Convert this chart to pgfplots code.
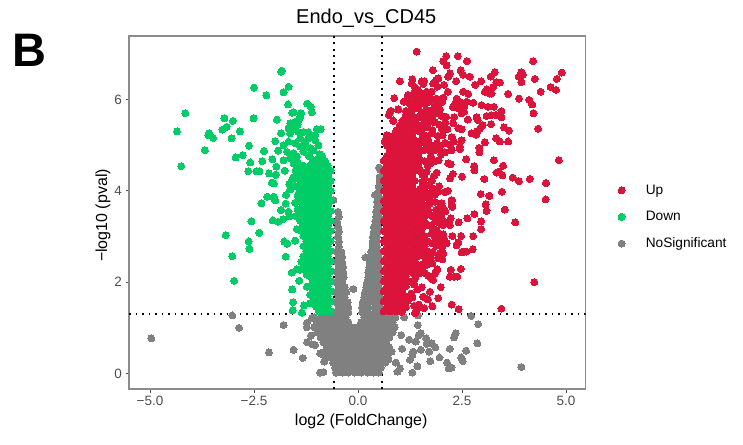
\documentclass[border=0pt]{standalone}
\usepackage{fontspec}
\setmainfont{Liberation Sans}
\usepackage{xcolor}
\usepackage{pgfplots}
\pgfplotsset{compat=1.18}
\definecolor{upred}{HTML}{DC143C}
\definecolor{downgreen}{HTML}{00CD66}
\definecolor{nsgray}{HTML}{808080}
\definecolor{axgray}{HTML}{8C8C8C}
\definecolor{ticktxt}{HTML}{4D4D4D}
\begin{document}
\begin{tikzpicture}
\useasboundingbox (0,0) rectangle (743pt,444pt);
\node[font=\fontsize{47}{50}\selectfont\bfseries, anchor=base west, inner sep=0pt] at (12pt,377pt) {B};
\begin{axis}[
    at={(129pt,55pt)}, anchor=south west,
    scale only axis, width=456.5pt, height=353pt,
    xmin=-5.505, xmax=5.47, ymin=-0.34, ymax=7.39,
    xtick={-5,-2.5,0,2.5,5},
    xticklabels={−5.0,−2.5,0.0,2.5,5.0},
    ytick={0,2,4,6},
    yticklabels={0,2,4,6},
    tick align=outside, xtick pos=bottom, ytick pos=left,
    major tick length=3.5pt,
    tick style={draw=ticktxt, line width=0.8pt},
    axis line style={draw=axgray, line width=1.2pt},
    ticklabel style={font=\fontsize{13.5}{15}\selectfont, text=ticktxt},
    xlabel={log2 (FoldChange)},
    ylabel={−log10 (pval)},
    label style={font=\fontsize{16}{18}\selectfont},
    xlabel style={at={(axis description cs:0.5,0)}, anchor=north, yshift=-21pt, xshift=4pt},
    ylabel style={at={(axis description cs:0,0.5)}, anchor=south, yshift=15pt, xshift=-3pt},
    title={Endo\_vs\_CD45},
    title style={font=\fontsize{20}{22}\selectfont, at={(axis description cs:0.5,1)}, anchor=south, yshift=-1pt, xshift=9pt},
    legend cell align=left,
    legend style={draw=none, fill=none, at={(1.065,0.487)}, anchor=west, inner sep=0pt,
      font=\fontsize{13.7}{15}\selectfont, row sep=11.5pt},
    legend image code/.code={\path (0pt,0pt) (28pt,0pt);\draw[#1] plot coordinates {(6pt,0pt)};},
    mystyle/.style={forget plot, only marks, mark=*, mark size=3.5pt, color=#1, mark options={line width=0pt, fill=#1, draw=#1}},
]
\addlegendimage{only marks, mark=*, mark size=3.5pt, color=upred, mark options={line width=0pt, fill=upred, draw=upred}}
\addlegendentry{Up}
\addlegendimage{only marks, mark=*, mark size=3.5pt, color=downgreen, mark options={line width=0pt, fill=downgreen, draw=downgreen}}
\addlegendentry{Down}
\addlegendimage{only marks, mark=*, mark size=3.5pt, color=nsgray, mark options={line width=0pt, fill=nsgray, draw=nsgray}}
\addlegendentry{NoSignificant}

% NoSignificant
\addplot[mystyle=nsgray] coordinates {
(-0.53,0.02)(-0.38,0.02)(-0.23,0.02)(-0.08,0.02)(0.08,0.02)(0.23,0.02)(0.38,0.02)(0.50,0.02)
(-0.55,0.13)(-0.45,0.13)(-0.30,0.13)(-0.15,0.13)(0,0.13)(0.15,0.13)(0.30,0.13)(0.45,0.13)(0.55,0.13)
(-0.60,0.24)(-0.53,0.24)(-0.38,0.24)(-0.23,0.24)(-0.08,0.24)(0.08,0.24)(0.23,0.24)(0.38,0.24)(0.53,0.24)(0.66,0.24)
(-0.72,0.35)(-0.60,0.35)(-0.45,0.35)(-0.30,0.35)(-0.15,0.35)(0,0.35)(0.15,0.35)(0.30,0.35)(0.45,0.35)(0.60,0.35)(0.72,0.35)
(-0.83,0.46)(-0.68,0.46)(-0.53,0.46)(-0.38,0.46)(-0.23,0.46)(-0.08,0.46)(0.08,0.46)(0.23,0.46)(0.38,0.46)(0.53,0.46)(0.68,0.46)
(-0.75,0.57)(-0.60,0.57)(-0.45,0.57)(-0.30,0.57)(-0.15,0.57)(0,0.57)(0.15,0.57)(0.30,0.57)(0.45,0.57)(0.60,0.57)(0.75,0.57)
(-0.83,0.68)(-0.68,0.68)(-0.53,0.68)(-0.38,0.68)(-0.23,0.68)(-0.08,0.68)(0.08,0.68)(0.23,0.68)(0.38,0.68)(0.53,0.68)(0.68,0.68)
(-0.90,0.79)(-0.75,0.79)(-0.60,0.79)(-0.45,0.79)(-0.30,0.79)(-0.15,0.79)(0,0.79)(0.15,0.79)(0.30,0.79)(0.45,0.79)(0.60,0.79)(0.75,0.79)
(-0.98,0.90)(-0.83,0.90)(-0.68,0.90)(-0.53,0.90)(-0.38,0.90)(-0.23,0.90)(-0.08,0.90)(0.08,0.90)(0.23,0.90)(0.38,0.90)(0.53,0.90)(0.68,0.90)(0.83,0.90)
(-1.05,1.01)(-0.90,1.01)(-0.75,1.01)(-0.60,1.01)(-0.45,1.01)(-0.30,1.01)(-0.15,1.01)(0,1.01)(0.15,1.01)(0.30,1.01)(0.45,1.01)(0.60,1.01)(0.75,1.01)(0.88,1.01)
(-0.98,1.12)(-0.83,1.12)(-0.68,1.12)(-0.53,1.12)(-0.38,1.12)(-0.23,1.12)(0.08,1.12)(0.23,1.12)(0.38,1.12)(0.53,1.12)(0.68,1.12)(0.83,1.12)
(-1.05,1.23)(-0.90,1.23)(-0.75,1.23)(-0.60,1.23)(-0.45,1.23)(-0.30,1.23)(0.15,1.23)(0.30,1.23)(0.45,1.23)(0.60,1.23)(0.75,1.23)(0.90,1.23)
(-0.53,1.34)(-0.38,1.34)(-0.23,1.34)(0.10,1.34)(0.25,1.34)(0.40,1.34)(0.53,1.34)
(-0.46,1.45)(-0.30,1.45)(-0.23,1.45)(0.10,1.45)(0.25,1.45)(0.40,1.45)(0.53,1.45)
(-0.53,1.56)(-0.38,1.56)(-0.25,1.56)(0.12,1.56)(0.25,1.56)(0.40,1.56)(0.53,1.56)
(-0.46,1.67)(-0.32,1.67)(0.15,1.67)(0.28,1.67)(0.42,1.67)(0.53,1.67)
(-0.53,1.78)(-0.38,1.78)(-0.28,1.78)(0.17,1.78)(0.30,1.78)(0.42,1.78)(0.53,1.78)
(-0.46,1.89)(-0.32,1.89)(0.20,1.89)(0.35,1.89)(0.50,1.89)
(-0.53,2.00)(-0.38,2.00)(0.22,2.00)(0.35,2.00)(0.50,2.00)
(-0.46,2.11)(-0.34,2.11)(0.25,2.11)(0.38,2.11)(0.50,2.11)
(-0.50,2.22)(-0.36,2.22)(0.25,2.22)(0.38,2.22)(0.50,2.22)
(-0.46,2.33)(-0.36,2.33)(0.27,2.33)(0.40,2.33)(0.50,2.33)
(-0.50,2.44)(-0.38,2.44)(0.28,2.44)(0.40,2.44)(0.50,2.44)
(-0.46,2.55)(-0.38,2.55)(0.30,2.55)(0.42,2.55)(0.50,2.55)
(-0.50,2.66)(-0.40,2.66)(0.32,2.66)(0.42,2.66)(0.50,2.66)
(-0.46,2.77)(0.35,2.77)(0.45,2.77)(-0.46,2.88)(0.35,2.88)(0.45,2.88)
(-0.48,2.99)(0.36,2.99)(0.45,2.99)(-0.46,3.10)(0.38,3.10)(0.48,3.10)
(-0.48,3.21)(0.38,3.21)(0.48,3.21)(-0.50,3.32)(0.42,3.32)(0.48,3.32)
(-0.46,3.43)(0.44,3.43)(0.50,3.43)(-0.48,3.54)(0.44,3.54)(0.50,3.54)
(0.46,3.65)(0.50,3.65)(0.46,3.76)(0.50,3.76)(0.41,3.91)(0.50,3.87)
(0.50,3.98)(0.50,4.09)(0.52,4.20)(0.52,4.30)(0.54,4.46)(0.51,4.51)(-0.59,3.80)
(-0.11,1.85)(0.18,2.54)
(-3.02,1.27)(-2.86,1.00)(-4.97,0.77)(-1.79,1.06)(-2.14,0.46)(-1.55,0.52)(-1.33,0.34)
(-1.13,0.83)(-1.22,0.68)(-1.11,0.64)(-1.03,0.62)(-0.91,0.02)(-0.83,0.03)(-0.91,0.44)
(-0.81,0.26)(-0.83,0.41)(-1.23,1.11)(-1.23,1.01)(-1.11,1.21)
(2.72,1.26)(2.89,1.08)(1.44,1.27)(1.44,1.06)(1.11,1.23)(2.35,0.88)(2.31,0.79)(2.87,0.66)
(2.60,0.50)(2.21,0.54)(1.51,0.88)(1.46,0.84)(1.04,0.84)(1.23,0.74)(1.39,0.70)(1.64,0.77)
(1.77,0.66)(1.65,0.65)(1.86,0.57)(1.51,0.52)(1.71,0.48)(1.33,0.48)(1.31,0.41)(1.25,0.30)
(1.06,0.54)(0.81,0.48)(1.96,0.35)(1.74,0.27)(2.14,0.24)(2.48,0.35)(2.52,0.27)(2.25,0.13)
(2.18,0.11)(1.43,0.16)(1.31,0.02)(1.01,0.11)(0.95,0.04)(0.91,0.24)(0.73,0.31)(3.93,0.14)
};

% Down
\addplot[mystyle=downgreen] coordinates {
(-0.66,1.36)(-0.80,1.36)(-0.94,1.36)
(-0.73,1.47)(-0.87,1.47)(-1.01,1.47)
(-0.66,1.58)(-0.80,1.58)(-0.94,1.58)(-1.09,1.58)
(-0.73,1.69)(-0.87,1.69)(-1.01,1.69)
(-0.66,1.80)(-0.80,1.80)(-0.94,1.80)(-1.09,1.80)
(-0.73,1.91)(-0.87,1.91)(-1.01,1.91)(-1.16,1.91)
(-0.66,2.02)(-0.80,2.02)(-0.94,2.02)(-1.09,2.02)
(-0.73,2.13)(-0.87,2.13)(-1.01,2.13)(-1.16,2.13)
(-0.66,2.24)(-0.80,2.24)(-0.94,2.24)(-1.09,2.24)(-1.24,2.24)
(-0.73,2.35)(-0.87,2.35)(-1.01,2.35)(-1.16,2.35)(-1.31,2.35)
(-0.66,2.46)(-0.80,2.46)(-0.94,2.46)(-1.09,2.46)(-1.24,2.46)
(-0.73,2.57)(-0.87,2.57)(-1.01,2.57)(-1.16,2.57)(-1.31,2.57)
(-0.66,2.68)(-0.80,2.68)(-0.94,2.68)(-1.09,2.68)(-1.24,2.68)
(-0.73,2.79)(-0.87,2.79)(-1.01,2.79)(-1.16,2.79)(-1.31,2.79)
(-0.66,2.90)(-0.80,2.90)(-0.94,2.90)(-1.09,2.90)(-1.24,2.90)
(-0.73,3.01)(-0.87,3.01)(-1.01,3.01)(-1.16,3.01)(-1.31,3.01)
(-0.66,3.12)(-0.80,3.12)(-0.94,3.12)(-1.09,3.12)(-1.24,3.12)(-1.36,3.12)
(-0.73,3.23)(-0.87,3.23)(-1.01,3.23)(-1.16,3.23)(-1.31,3.23)
(-0.66,3.34)(-0.80,3.34)(-0.94,3.34)(-1.09,3.34)(-1.24,3.34)(-1.39,3.34)
(-0.73,3.45)(-0.87,3.45)(-1.01,3.45)(-1.16,3.45)(-1.31,3.45)
(-0.66,3.56)(-0.80,3.56)(-0.94,3.56)(-1.09,3.56)(-1.24,3.56)(-1.39,3.56)
(-0.73,3.67)(-0.87,3.67)(-1.01,3.67)(-1.16,3.67)(-1.31,3.67)
(-0.66,3.78)(-0.80,3.78)(-0.94,3.78)(-1.09,3.78)(-1.24,3.78)(-1.39,3.78)
(-0.73,3.89)(-0.87,3.89)(-1.01,3.89)(-1.16,3.89)(-1.31,3.89)
(-0.66,4.00)(-0.80,4.00)(-0.94,4.00)(-1.09,4.00)(-1.24,4.00)(-1.39,4.00)
(-0.73,4.11)(-0.87,4.11)(-1.01,4.11)(-1.16,4.11)(-1.31,4.11)
(-0.66,4.22)(-0.80,4.22)(-0.94,4.22)(-1.09,4.22)(-1.24,4.22)(-1.39,4.22)
(-0.73,4.33)(-0.87,4.33)(-1.01,4.33)(-1.16,4.33)(-1.31,4.33)(-1.46,4.33)
(-0.66,4.44)(-0.80,4.44)(-0.94,4.44)(-1.09,4.44)(-1.24,4.44)(-1.39,4.44)
(-0.73,4.55)(-0.87,4.55)(-1.01,4.55)(-1.16,4.55)(-1.31,4.55)
(-0.80,4.66)(-0.94,4.66)(-1.09,4.66)(-0.87,4.77)(-1.16,4.75)
(-1.50,4.45)(-1.55,4.30)(-1.50,4.10)(-1.45,3.90)(-1.45,4.52)
(-1.85,6.61)(-1.83,6.63)(-2.50,6.26)(-1.67,6.28)(-1.79,6.16)(-2.20,6.09)(-4.15,5.70)(-1.68,5.89)
(-1.22,5.91)(-1.13,5.84)(-1.11,5.72)(-1.58,5.71)(-1.55,5.72)(-1.37,5.70)(-3.21,5.59)(-3.01,5.53)
(-2.51,5.59)(-1.95,5.56)(-4.35,5.30)(-3.16,5.40)(-3.26,5.34)(-2.84,5.30)(-3.58,5.26)(-3.60,5.22)
(-3.48,5.16)(-3.04,5.15)(-3.68,4.89)(-2.62,4.99)(-2.26,4.87)(-2.94,4.73)(-2.77,4.78)(-4.25,4.54)
(-2.59,4.62)(-2.30,4.65)(-2.64,4.43)(-2.44,4.43)(-2.37,4.43)(-2.14,4.38)(-2.07,4.18)(-2.02,4.16)
(-2.18,3.87)(-2.03,3.87)(-1.99,3.79)(-2.32,3.73)(-1.74,3.72)(-1.51,3.74)(-1.73,3.91)
(-1.85,5.26)(-1.99,5.09)(-1.92,4.88)(-2.06,4.69)(-1.96,4.53)(-1.98,4.35)(-1.76,4.44)(-1.65,4.14)
(-1.58,4.24)(-1.63,4.03)
(-1.39,5.62)(-1.43,5.55)(-1.51,5.51)(-1.63,5.48)(-1.59,5.40)(-1.67,5.37)(-1.63,5.26)(-1.43,5.29)
(-1.31,5.29)(-1.39,5.15)(-0.99,5.35)(-0.90,5.35)(-1.03,5.22)(-1.11,5.19)(-1.19,5.15)(-1.03,5.11)
(-1.27,5.08)(-1.67,5.08)(-1.51,5.04)(-1.79,5.00)(-1.15,4.93)(-1.39,4.97)(-1.07,4.89)(-1.55,4.82)
(-1.31,4.86)(-1.79,4.67)(-1.63,4.71)(-1.47,4.75)(-1.19,4.78)(-1.03,4.67)(-1.55,4.60)
(-0.95,5.00)(-1.45,5.45)(-1.52,5.35)(-1.20,5.28)(-1.25,4.95)(-0.92,4.80)(-1.70,4.85)(-1.44,4.62)
(-3.18,3.03)(-2.56,3.33)(-2.37,3.08)(-2.63,2.89)(-2.61,2.73)(-3.02,2.57)(-1.74,2.56)(-2.98,2.03)
(-1.77,2.89)(-1.70,2.84)(-1.51,2.91)(-1.47,3.16)(-2.05,3.35)(-1.92,3.32)(-1.80,3.38)(-1.65,3.44)
(-1.85,3.58)(-1.67,3.54)(-1.59,2.21)(-1.47,2.28)(-1.39,2.27)(-1.41,2.03)(-1.23,2.16)(-1.23,1.90)
(-1.58,1.84)(-1.56,1.56)(-1.57,1.38)(-1.35,1.33)(-1.30,1.49)(-1.15,1.72)(-1.15,1.54)(-1.31,2.45)
(-1.36,2.45)(-1.45,3.60)(-1.50,3.45)
};

% Up
\addplot[mystyle=upred] coordinates {
(0.62,1.36)(0.77,1.36)(0.92,1.36)
(0.70,1.47)(0.85,1.47)(1.00,1.47)
(0.62,1.58)(0.77,1.58)(0.92,1.58)(1.07,1.58)
(0.70,1.69)(0.85,1.69)(1.00,1.69)(1.15,1.69)
(0.62,1.80)(0.77,1.80)(0.92,1.80)(1.07,1.80)
(0.70,1.91)(0.85,1.91)(1.00,1.91)(1.15,1.91)
(0.62,2.02)(0.77,2.02)(0.92,2.02)(1.07,2.02)(1.22,2.02)
(0.70,2.13)(0.85,2.13)(1.00,2.13)(1.15,2.13)
(0.62,2.24)(0.77,2.24)(0.92,2.24)(1.07,2.24)(1.22,2.24)
(0.70,2.35)(0.85,2.35)(1.00,2.35)(1.15,2.35)(1.30,2.35)
(0.62,2.46)(0.77,2.46)(0.92,2.46)(1.07,2.46)(1.22,2.46)(1.37,2.46)
(0.70,2.57)(0.85,2.57)(1.00,2.57)(1.15,2.57)(1.30,2.57)(1.45,2.57)(1.60,2.57)
(0.62,2.68)(0.77,2.68)(0.92,2.68)(1.07,2.68)(1.22,2.68)(1.37,2.68)(1.52,2.68)(1.67,2.68)
(0.70,2.79)(0.85,2.79)(1.00,2.79)(1.15,2.79)(1.30,2.79)(1.45,2.79)(1.60,2.79)
(0.62,2.90)(0.77,2.90)(0.92,2.90)(1.07,2.90)(1.22,2.90)(1.37,2.90)(1.52,2.90)(1.67,2.90)
(0.70,3.01)(0.85,3.01)(1.00,3.01)(1.15,3.01)(1.30,3.01)(1.45,3.01)(1.60,3.01)
(0.62,3.12)(0.77,3.12)(0.92,3.12)(1.07,3.12)(1.22,3.12)(1.37,3.12)(1.52,3.12)
(0.70,3.23)(0.85,3.23)(1.00,3.23)(1.15,3.23)(1.30,3.23)(1.45,3.23)(1.60,3.23)
(0.62,3.34)(0.77,3.34)(0.92,3.34)(1.07,3.34)(1.22,3.34)(1.37,3.34)(1.52,3.34)
(0.70,3.45)(0.85,3.45)(1.00,3.45)(1.15,3.45)(1.30,3.45)(1.45,3.45)
(0.62,3.56)(0.77,3.56)(0.92,3.56)(1.07,3.56)(1.22,3.56)(1.37,3.56)(1.52,3.56)
(0.70,3.67)(0.85,3.67)(1.00,3.67)(1.15,3.67)(1.30,3.67)(1.45,3.67)
(0.62,3.78)(0.77,3.78)(0.92,3.78)(1.07,3.78)(1.22,3.78)(1.37,3.78)
(0.70,3.89)(0.85,3.89)(1.00,3.89)(1.15,3.89)(1.30,3.89)(1.45,3.89)
(0.62,4.00)(0.77,4.00)(0.92,4.00)(1.07,4.00)(1.22,4.00)(1.37,4.00)
(0.70,4.11)(0.85,4.11)(1.00,4.11)(1.15,4.11)(1.30,4.11)
(0.62,4.22)(0.77,4.22)(0.92,4.22)(1.07,4.22)(1.22,4.22)(1.37,4.22)
(0.70,4.33)(0.85,4.33)(1.00,4.33)(1.15,4.33)(1.30,4.33)
(0.62,4.44)(0.77,4.44)(0.92,4.44)(1.07,4.44)(1.22,4.44)(1.37,4.44)
(0.70,4.55)(0.85,4.55)(1.00,4.55)(1.15,4.55)(1.30,4.55)(1.45,4.55)
(0.62,4.66)(0.77,4.66)(0.92,4.66)(1.07,4.66)(1.22,4.66)(1.37,4.66)(1.52,4.66)
(0.70,4.77)(0.85,4.77)(1.00,4.77)(1.15,4.77)(1.30,4.77)(1.45,4.77)
(0.77,4.88)(0.92,4.88)(1.07,4.88)(1.22,4.88)(1.37,4.88)(1.52,4.88)
(0.70,4.99)(0.85,4.99)(1.00,4.99)(1.15,4.99)(1.30,4.99)(1.45,4.99)
(0.77,5.10)(0.92,5.10)(1.07,5.10)(1.22,5.10)(1.37,5.10)
(0.85,5.21)(1.00,5.21)(1.15,5.21)(1.30,5.21)
(0.92,5.32)(1.07,5.32)(1.22,5.32)(1.37,5.32)
(1.00,5.43)(1.15,5.43)(1.30,5.43)
(1.07,5.54)(1.22,5.54)(1.37,5.54)
(1.15,5.65)(1.30,5.65)
(1.15,5.75)(1.30,5.78)(1.45,5.80)(1.25,5.90)(1.40,5.95)(1.60,5.90)(1.55,5.70)(1.70,5.75)
(1.35,6.05)(1.50,6.00)(1.10,5.95)(1.45,5.62)(1.62,5.55)
(0.87,6.03)(0.77,5.73)(0.97,5.78)(0.85,5.53)(0.69,5.22)(0.65,5.07)
(1.55,5.45)(1.65,5.40)(1.70,5.50)(1.80,5.55)(1.88,5.70)(1.75,5.72)(1.85,5.50)(1.95,5.45)(1.48,5.30)
(1.58,5.15)(1.50,5.10)(1.62,5.05)(1.70,4.95)(1.60,4.90)(1.75,4.85)(1.90,5.05)(1.55,5.60)(1.62,5.68)
(2.10,5.50)(1.92,5.20)(2.15,5.35)(2.10,5.05)(2.00,4.80)(1.68,4.55)(1.75,4.60)(1.85,4.65)(1.50,4.45)
(1.55,4.20)(1.60,4.28)(1.50,4.05)(1.52,3.80)(1.60,4.00)(1.65,4.12)(1.72,3.95)(1.80,4.05)(1.85,3.92)
(1.60,3.65)(1.70,3.50)(1.72,3.72)(1.88,3.58)(2.10,3.55)(2.05,3.62)(1.90,3.45)(1.62,3.30)(1.78,3.22)
(1.95,3.30)(1.95,3.05)(2.05,3.05)(1.85,2.98)(1.78,2.85)(1.88,2.80)(2.03,2.78)(1.80,2.65)(1.75,2.55)
(1.62,2.45)(1.45,2.35)(1.40,2.28)(1.32,2.20)(1.35,1.95)(1.28,1.75)(1.20,1.60)(1.15,1.45)(1.05,1.35)
(1.60,2.20)(1.65,2.38)(1.50,2.20)(1.20,6.10)(1.45,6.20)(1.60,6.05)(1.70,5.95)(1.85,5.95)(1.95,5.90)
(1.41,7.05)(2.12,6.95)(2.40,6.95)(2.05,6.84)(2.62,6.84)(2.13,6.75)(4.21,6.84)(1.80,6.64)(2.47,6.64)
(2.21,6.57)(2.17,6.50)(2.53,6.54)(2.69,6.50)(3.29,6.60)(3.19,6.50)(2.96,6.40)(2.82,6.32)
(3.93,6.60)(3.86,6.50)(3.96,6.54)(3.93,6.38)(4.25,6.45)(4.90,6.59)(4.78,6.45)(4.63,6.27)(4.76,6.21)(4.39,6.17)
(1.01,6.40)(1.31,6.44)(1.29,6.35)(1.53,6.40)(1.59,6.40)(1.57,6.34)(1.93,6.46)(1.88,6.43)(1.81,6.35)
(1.91,6.28)(2.07,6.32)(2.36,6.40)(1.37,6.26)(1.35,6.15)(2.16,6.17)
(3.33,6.38)(3.41,6.37)(3.25,6.27)(3.09,6.22)(3.17,6.13)(3.05,6.17)(3.21,6.13)(3.61,6.12)(3.87,6.02)
(4.12,5.99)(4.19,5.89)(4.22,5.70)(3.45,5.75)(4.33,5.36)
(1.19,6.02)(0.97,5.79)(0.79,5.75)(0.74,5.66)(0.85,5.54)(0.65,5.10)
(1.53,6.10)(1.65,6.17)(1.77,6.17)(1.45,6.06)(1.73,6.06)(1.89,6.02)(2.05,6.04)(2.03,5.95)
(2.53,6.17)(2.65,6.12)(2.37,6.02)(2.61,5.95)(2.77,5.93)(2.33,5.91)(2.45,5.95)(2.28,5.83)(2.41,5.81)
(2.55,5.84)(2.55,5.73)(2.49,5.70)
(2.97,5.88)(3.12,5.84)(3.27,5.84)(3.09,5.64)(3.21,5.66)(3.32,5.66)(3.45,5.61)(3.20,5.46)
(2.64,5.56)(2.85,5.61)(2.88,5.55)(2.31,5.61)(2.29,5.48)(2.41,5.37)(2.49,5.35)(3.00,5.44)(2.93,5.36)
(2.87,5.30)(2.73,5.26)(2.84,5.23)
(3.51,5.39)(3.63,5.32)(3.61,5.08)(3.32,5.15)(3.41,5.08)(3.05,5.06)(2.92,4.94)(2.92,4.84)(2.60,4.69)
(3.27,4.67)(3.49,4.55)(3.39,4.42)(3.33,4.40)(3.47,4.34)(3.72,4.29)(3.87,4.21)(4.13,4.26)(4.52,4.17)
(4.83,4.67)(4.51,3.81)(3.04,4.26)(2.79,4.54)(2.80,4.45)(2.50,4.31)(2.17,4.60)(2.23,4.58)(1.94,4.67)
(2.28,4.37)(2.21,4.27)(1.89,4.40)(1.83,4.33)(1.77,4.22)(1.95,4.10)(1.93,3.99)(2.09,3.97)(2.16,4.00)
(3.46,3.98)(2.95,3.93)(3.16,3.89)(3.07,3.70)(2.25,3.78)(2.27,3.65)(1.73,3.81)(1.85,3.76)(1.97,3.72)(3.53,3.59)
(2.25,5.18)(2.31,5.08)(2.49,5.11)(2.21,5.00)(2.45,4.97)(2.25,4.89)(2.09,4.84)(2.45,4.91)(1.97,4.97)
(1.85,4.89)(1.93,4.93)(2.01,5.37)(2.04,5.22)(1.79,5.33)(1.79,5.27)(1.69,5.11)(1.77,5.00)(2.01,5.64)
(1.97,5.78)(1.83,5.83)(2.12,5.62)(1.65,5.77)(1.41,5.84)(1.25,5.91)(1.49,5.95)(1.57,6.13)(1.73,5.62)
(1.57,5.59)(1.45,5.44)(1.57,5.40)(1.60,4.65)(1.65,5.20)(1.55,5.25)(1.75,4.75)(1.65,4.42)(1.55,4.35)
(3.07,3.71)(3.09,3.56)(2.80,3.49)(2.63,3.40)(2.42,3.31)(2.96,3.33)(3.78,3.31)(2.96,3.16)(2.77,3.01)
(2.48,3.01)(2.27,3.01)(2.41,2.87)(2.37,2.81)(2.76,2.72)(2.49,2.65)(2.55,2.67)(2.60,2.67)(2.47,2.29)
(2.23,2.27)(2.21,2.12)(2.31,2.12)(2.39,2.12)(4.24,2.00)(1.99,1.89)(2.25,1.51)(2.42,1.41)(3.45,1.42)
(1.93,1.65)(1.79,1.47)(1.68,1.62)(1.73,1.79)(1.57,1.68)(1.53,1.89)(1.43,1.84)(1.31,1.67)(1.47,1.51)
(1.35,1.48)(1.59,1.43)(1.41,1.39)(1.37,1.32)(1.91,2.28)(1.85,2.19)(1.69,2.14)(1.77,2.08)(1.81,2.05)
(1.43,2.18)(1.37,2.08)(1.79,2.41)(1.97,2.63)(2.05,2.63)(1.93,2.52)(2.03,2.50)(1.53,2.38)(1.57,2.34)
(1.93,2.94)(2.09,2.91)(2.13,2.85)(2.01,2.91)(2.21,3.25)(2.23,3.40)(2.13,3.30)(2.05,3.25)(1.97,3.51)
(2.01,3.40)(2.25,3.69)(2.25,3.80)(1.85,3.33)(1.79,3.44)(1.69,3.58)(1.89,3.14)(1.77,3.07)(1.65,3.69)
(2.01,3.73)(1.60,3.85)(1.55,3.98)(1.60,3.45)(1.70,3.25)
};

% cutoffs
\addplot[forget plot, black, line width=1.6pt, dash pattern=on 1.6pt off 4.9pt] coordinates {(-5.505,1.3)(5.47,1.3)};
\addplot[forget plot, black, line width=2pt, dash pattern=on 2pt off 4.5pt] coordinates {(-0.585,-0.34)(-0.585,7.39)};
\addplot[forget plot, black, line width=2pt, dash pattern=on 2pt off 4.5pt] coordinates {(0.585,-0.34)(0.585,7.39)};
\end{axis}
\end{tikzpicture}
\end{document}
